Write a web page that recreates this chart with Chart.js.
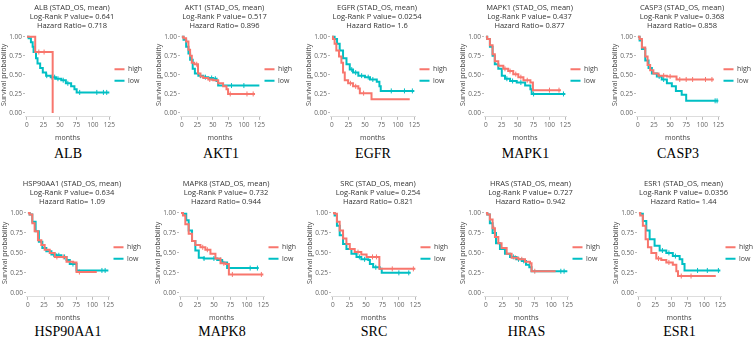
<!DOCTYPE html>
<html>
<head>
<meta charset="UTF-8" />
<title>KM curves</title>
<script src="https://cdn.jsdelivr.net/npm/chart.js"></script>
<style>
  body { margin:0; background:#fff; }
  #wrap { position:relative; width:753px; height:339px; overflow:hidden; }
  canvas { position:absolute; }
  .gene { position:absolute; font-family:"Liberation Serif","Times New Roman",serif; font-size:14px; color:#000;
          transform:translate(-50%,-50%); white-space:nowrap; }
</style>
</head>
<body>
<div id="wrap"></div>
<script>
/* ---- data (months, survival probability) ---- */
const genes   = ['ALB','AKT1','EGFR','MAPK1','CASP3','HSP90AA1','MAPK8','SRC','HRAS','ESR1'];
const pValues = ['0.641','0.517','0.0254','0.437','0.368','0.634','0.732','0.254','0.727','0.0356'];
const hazard  = ['0.718','0.896','1.6','0.877','0.858','1.09','0.944','0.821','0.942','1.44'];
const xTicks  = [0,25,50,75,100,125];
const yTicks  = [0,0.25,0.5,0.75,1];

const albHigh = [[0,1],[12.5,0.8],[39,0]];
const albHighCens = [[18,0.8],[26,0.8]];
const albLow = [[0,1],[2.5,0.98],[6,0.93],[8.6,0.87],[10,0.8],[13.7,0.72],[16,0.65],[20,0.59],[24,0.53],[29,0.49],[36,0.47],[44,0.45],[52,0.43],[59,0.39],[67,0.35],[72,0.31],[75.4,0.27],[125,0.27]];
const albLowCens = [[30,0.49],[38,0.47],[42,0.47],[47,0.45],[55,0.43],[62,0.39],[80,0.27],[106,0.27],[116,0.27],[121,0.27]];

const akt1High = [[0,1],[2.7,0.98],[6.9,0.94],[10.6,0.83],[13.3,0.75],[16,0.66],[20,0.64],[26,0.52],[30,0.48],[34.6,0.46],[42.6,0.44],[50.5,0.43],[58.5,0.39],[66.5,0.35],[72,0.31],[74.5,0.25],[118,0.25]];
const akt1HighCens = [[24,0.64],[45,0.44],[78,0.25],[105,0.25],[115,0.25]];
const akt1Low = [[0,1],[2.7,0.96],[6.9,0.87],[10.6,0.78],[13.3,0.7],[17.5,0.58],[21,0.52],[26.6,0.49],[34.6,0.47],[42.6,0.46],[50.5,0.45],[56,0.42],[58.5,0.36],[125,0.36]];
const akt1LowCens = [[30,0.49],[38,0.47],[48,0.46],[54,0.45],[80,0.36],[100,0.36]];

const egfrHigh = [[0,1],[1.5,0.97],[4,0.91],[6.6,0.82],[10.7,0.74],[14.3,0.66],[16.8,0.53],[19.4,0.43],[24.5,0.39],[32,0.35],[40,0.32],[42.3,0.26],[60,0.18],[118,0.18]];
const egfrHighCens = [[28,0.39],[36,0.35],[48,0.26]];
const egfrLow = [[0,1],[4,0.97],[7.7,0.91],[11.7,0.82],[16.8,0.72],[22,0.64],[27,0.57],[32,0.53],[40,0.49],[50,0.47],[57.7,0.44],[68,0.41],[72,0.35],[74,0.29],[125,0.29]];
const egfrLowCens = [[30,0.57],[36,0.53],[45,0.49],[55,0.47],[62,0.44],[90,0.29],[110,0.29],[122,0.29]];

const mapk1High = [[0,1],[2,0.97],[6.3,0.89],[10.5,0.77],[14,0.68],[19.5,0.62],[27.4,0.58],[35,0.55],[43,0.51],[51,0.47],[59,0.43],[70,0.4],[74,0.3],[118,0.3]];
const mapk1HighCens = [[30,0.58],[38,0.55],[47,0.51],[55,0.47],[65,0.43],[100,0.3],[115,0.3]];
const mapk1Low = [[0,1],[2,0.97],[6.3,0.87],[10.5,0.75],[14,0.64],[19.5,0.58],[25,0.49],[30,0.45],[38,0.42],[48.5,0.4],[61.7,0.36],[70,0.31],[72,0.25],[125,0.25]];
const mapk1LowCens = [[33,0.45],[42,0.42],[55,0.4],[75,0.25],[122,0.25]];

const casp3High = [[0,1],[2.6,0.97],[6.2,0.86],[11.4,0.74],[15,0.63],[19,0.56],[24,0.52],[32,0.49],[45,0.48],[60,0.44],[118,0.44]];
const casp3HighCens = [[40,0.49],[50,0.48],[65,0.44],[75,0.44],[85,0.44],[105,0.44],[115,0.44]];
const casp3Low = [[0,1],[2.6,0.95],[6.2,0.84],[11.4,0.69],[16.5,0.59],[21.7,0.52],[29.4,0.48],[37,0.44],[45,0.39],[52.7,0.35],[59,0.29],[68,0.24],[75,0.16],[125,0.16]];
const casp3LowCens = [[33,0.48],[40,0.44],[120,0.16],[123,0.16]];

const hspHigh = [[0,1],[2.6,0.98],[6.8,0.87],[10.4,0.77],[15.6,0.66],[20.8,0.6],[26,0.54],[33.9,0.5],[41.7,0.45],[60,0.39],[70.3,0.38],[75.5,0.26],[107,0.26]];
const hspHighCens = [[45,0.45],[55,0.45],[65,0.39],[80,0.26]];
const hspLow = [[0,1],[2.6,0.98],[6.8,0.89],[12,0.77],[17,0.64],[22.4,0.56],[28.6,0.52],[36.5,0.48],[44,0.47],[52,0.45],[60,0.41],[65,0.36],[75.5,0.28],[125,0.28]];
const hspLowCens = [[40,0.48],[48,0.47],[57,0.45],[70,0.36],[115,0.28],[120,0.28]];

const mapk8High = [[0,1],[3,0.97],[6.6,0.86],[11.7,0.74],[16.8,0.65],[21.8,0.6],[29.5,0.57],[37,0.54],[44.7,0.49],[52.3,0.43],[60,0.37],[67.6,0.36],[72.7,0.23],[125,0.23]];
const mapk8HighCens = [[33,0.57],[40,0.54],[65,0.37],[78,0.23],[122,0.23]];
const mapk8Low = [[0,1],[3,0.99],[8,0.91],[11.7,0.78],[16.8,0.65],[21.8,0.53],[27,0.44],[34.5,0.43],[55,0.41],[62.5,0.38],[70,0.31],[118,0.31]];
const mapk8LowCens = [[35,0.43],[50,0.43],[60,0.41],[105,0.31],[116,0.31]];

const srcHigh = [[0,1],[2.5,0.99],[6,0.89],[10.2,0.78],[15.3,0.68],[20.4,0.61],[25.5,0.55],[33,0.51],[43,0.48],[51,0.45],[70.4,0.3],[125,0.3]];
const srcHighCens = [[38,0.51],[60,0.45],[66,0.45],[90,0.3],[122,0.3]];
const srcLow = [[0,1],[2.5,0.97],[6,0.84],[10.2,0.72],[15.3,0.61],[20.4,0.55],[28,0.49],[35.7,0.45],[43,0.42],[53.6,0.41],[56,0.36],[61,0.32],[71,0.3],[74,0.25],[118,0.25]];
const srcLowCens = [[40,0.45],[48,0.42],[65,0.32],[100,0.25],[115,0.25]];

const hrasHigh = [[0,1],[2,0.98],[6,0.92],[10.2,0.81],[13.8,0.7],[19,0.62],[24,0.56],[31.8,0.49],[39.4,0.44],[49.7,0.42],[60,0.39],[67.6,0.37],[70,0.27],[107,0.27]];
const hrasHighCens = [[12,0.81],[45,0.44],[55,0.42],[75,0.27]];
const hrasLow = [[0,1],[2,0.98],[6,0.87],[10.2,0.75],[15.4,0.62],[21.5,0.55],[29.2,0.49],[37,0.45],[47,0.42],[55,0.4],[61.5,0.35],[66.6,0.32],[70,0.27],[125,0.27]];
const hrasLowCens = [[42,0.45],[50,0.42],[58,0.4],[115,0.27],[120,0.27]];

const esr1High = [[0,1],[2,0.97],[6,0.84],[10.2,0.67],[13.8,0.57],[19,0.5],[26.6,0.43],[34.3,0.41],[42,0.38],[52,0.35],[57.4,0.27],[60,0.21],[118,0.21]];
const esr1HighCens = [[30,0.43],[46,0.38],[65,0.21],[80,0.21]];
const esr1Low = [[0,1],[2,0.99],[6,0.9],[11.3,0.78],[16.4,0.67],[24,0.59],[31.8,0.53],[42,0.5],[52,0.46],[62.5,0.42],[66.6,0.36],[70,0.28],[125,0.28]];
const esr1LowCens = [[36,0.53],[46,0.5],[56,0.46],[90,0.28],[105,0.28],[122,0.28]];

const highSeries = [albHigh, akt1High, egfrHigh, mapk1High, casp3High, hspHigh, mapk8High, srcHigh, hrasHigh, esr1High];
const lowSeries  = [albLow, akt1Low, egfrLow, mapk1Low, casp3Low, hspLow, mapk8Low, srcLow, hrasLow, esr1Low];
const highCens   = [albHighCens, akt1HighCens, egfrHighCens, mapk1HighCens, casp3HighCens, hspHighCens, mapk8HighCens, srcHighCens, hrasHighCens, esr1HighCens];
const lowCens    = [albLowCens, akt1LowCens, egfrLowCens, mapk1LowCens, casp3LowCens, hspLowCens, mapk8LowCens, srcLowCens, hrasLowCens, esr1LowCens];

/* ---- layout ---- */
const plotX0 = [27,182,332,486,638, 28,181,333,486,639];  // pixel of month 0
const span   = [82,78,82,79,80, 80,82,82,81,81];            // pixels from month 0 to 125
const rowTop = [0, 176];
const rowH   = [142, 146];
const geneY  = [154, 332];
const HIGH = '#F8766D', LOW = '#00BFC4';
const FONT = "'Open Sans', 'DejaVu Sans', sans-serif";
const AXIS_W = 25;       // y-axis box width
const LEG_W = 34;        // legend box width
const X_MIN = -3, X_MAX = 126;
const PAD_R = 8;

const wrap = document.getElementById('wrap');

// fixed legend width so every panel gets the same plot geometry
const legendWidth = {
  id: 'legendWidth',
  beforeLayout: chart => {
    const lg = chart.legend;
    if (lg && !lg._fixed) {
      const fit = lg.fit;
      lg.fit = function () { fit.call(this); this.width = LEG_W; };
      lg._fixed = true;
    }
  }
};

genes.forEach((g, i) => {
  const row = i < 5 ? 0 : 1;
  const pxPerMonth = span[i] / 125;
  const plotW = (X_MAX - X_MIN) * pxPerMonth;
  const left = plotX0[i] - AXIS_W - (0 - X_MIN) * pxPerMonth;

  const cv = document.createElement('canvas');
  cv.width = Math.round(AXIS_W + plotW + LEG_W + PAD_R); cv.height = rowH[row];
  cv.style.left = Math.round(left) + 'px';
  cv.style.top = rowTop[row] + 'px';
  wrap.appendChild(cv);

  const lbl = document.createElement('div');
  lbl.className = 'gene';
  lbl.textContent = g;
  lbl.style.left = (plotX0[i] + span[i] / 2) + 'px';
  lbl.style.top = geneY[row] + 'px';
  wrap.appendChild(lbl);

  const lineDs = (label, data, color) => ({
    label, data, borderColor: color, backgroundColor: color,
    borderWidth: 2, stepped: true, pointRadius: 0, fill: false
  });
  const censDs = (data, color) => ({
    label: '', data, showLine: false, borderColor: color, backgroundColor: color,
    pointStyle: 'line', rotation: 90, pointRadius: 2.5, borderWidth: 1
  });

  new Chart(cv, {
    type: 'line',
    data: {
      datasets: [
        lineDs('high', highSeries[i], HIGH),
        lineDs('low', lowSeries[i], LOW),
        censDs(highCens[i], HIGH),
        censDs(lowCens[i], LOW)
      ]
    },
    options: {
      responsive: false,
      animation: false,
      devicePixelRatio: 1,
      layout: { padding: { left: 0, top: 0, bottom: 0, right: PAD_R } },
      font: { family: FONT },
      plugins: {
        title: {
          display: true,
          text: [g + ' (STAD_OS, mean)', 'Log-Rank P value= ' + pValues[i], 'Hazard Ratio= ' + hazard[i]],
          color: '#333', font: { family: FONT, size: 7.5, weight: 'normal', lineHeight: 1.2 },
          padding: { top: 3, bottom: 3 }
        },
        legend: {
          position: 'right',
          fullSize: false,
          labels: {
            usePointStyle: true, pointStyle: 'line', pointStyleWidth: 10,
            color: '#444', font: { family: FONT, size: 7 }, padding: 4.5,
            filter: item => item.text !== ''
          }
        },
        tooltip: { enabled: false }
      },
      scales: {
        x: {
          type: 'linear', min: X_MIN, max: X_MAX,
          afterBuildTicks: s => { s.ticks = xTicks.map(v => ({ value: v })); },
          ticks: { color: '#666', font: { family: FONT, size: 6.5 }, padding: 1, maxRotation: 0 },
          grid: { display: true, drawOnChartArea: false, drawTicks: true, tickLength: 3, color: '#bbb' },
          border: { display: true, color: '#ddd' },
          title: { display: true, text: 'months', color: '#444', font: { family: FONT, size: 7 }, padding: { top: 4, bottom: 0 } }
        },
        y: {
          min: -0.05, max: 1.05,
          afterBuildTicks: s => { s.ticks = yTicks.map(v => ({ value: v })); },
          afterFit: s => { s.width = AXIS_W; },
          ticks: { color: '#666', font: { family: FONT, size: 6.5 }, padding: 1, callback: v => v.toFixed(2) },
          grid: { display: true, drawOnChartArea: false, drawTicks: true, tickLength: 2, color: '#bbb' },
          border: { display: false },
          title: { display: true, text: 'Survival probability', color: '#444', font: { family: FONT, size: 7 }, padding: 0 }
        }
      }
    },
    plugins: [legendWidth]
  });
});
</script>
</body>
</html>
